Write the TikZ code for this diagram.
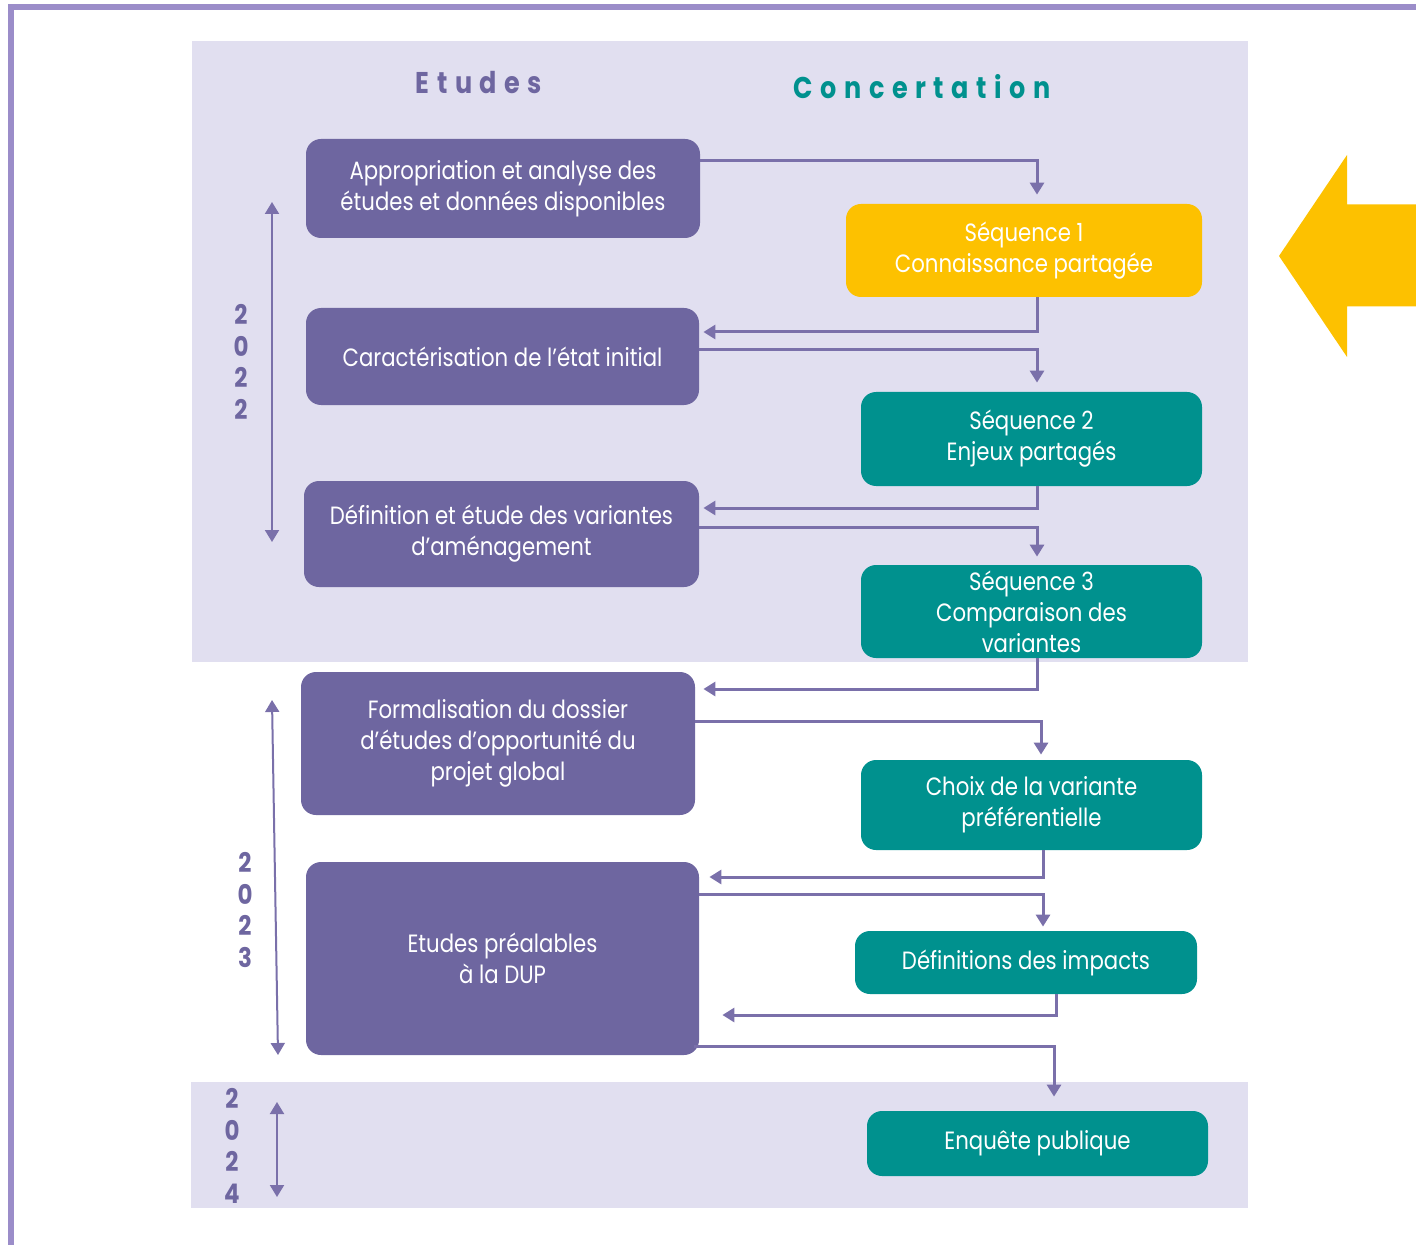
\documentclass[tikz,border=0pt]{standalone}
\usepackage{fontspec}
\setmainfont{Poppins}[FakeStretch=0.85]
\usetikzlibrary{arrows.meta,calc}
\definecolor{framelila}{HTML}{9B8DC9}
\definecolor{panel}{HTML}{E1DFF0}
\definecolor{etudeviolet}{HTML}{6E66A0}
\definecolor{flowviolet}{HTML}{7A70AA}
\definecolor{concteal}{HTML}{00918E}
\definecolor{seqyellow}{HTML}{FDC100}
\tikzstyle{etudebox}=[rounded corners=7.5pt,fill=etudeviolet,text=white,align=center,inner sep=0pt,font=\fontsize{12.5}{15.5}\selectfont]
\tikzstyle{concbox}=[rounded corners=7.5pt,fill=concteal,text=white,align=center,inner sep=0pt,minimum width=170.5pt,font=\fontsize{12.5}{15.5}\selectfont]
\tikzstyle{flow}=[draw=flowviolet,line width=1.5pt,-{Triangle[width=7pt,length=6pt]}]
\tikzstyle{yeartext}=[text=etudeviolet,align=center,inner sep=0pt,font=\bfseries\fontsize{13.5}{15.7}\selectfont]
\tikzstyle{yeararrow}=[draw=flowviolet,line width=1pt,{Triangle[width=7pt,length=6pt]}-{Triangle[width=7pt,length=6pt]}]

\begin{document}
\begin{tikzpicture}[x=0.5pt,y=-0.5pt]
    \useasboundingbox (0,0) rectangle (1416,1245);
    \draw[framelila,line width=3pt] (11,1245) -- (11,7.5) -- (1416,7.5);
    \fill[panel] (192,41) rectangle (1248,662);
    \fill[panel] (191,1082) rectangle (1248,1208);

    \node[text=etudeviolet,font=\bfseries\fontsize{15}{18}\selectfont\addfontfeature{LetterSpace=25}] (tEtudes) at (479,83) {Etudes};
    \node[text=concteal,font=\bfseries\fontsize{15}{18}\selectfont\addfontfeature{LetterSpace=25}] (tConc) at (922,87) {Concertation};

    \node[etudebox,minimum width=197pt,minimum height=49.5pt] (A1) at (503,188.5) {Appropriation et analyse des\\études et données disponibles};
    \node[etudebox,minimum width=196.5pt,minimum height=48.5pt] (A2) at (502.5,356.5) {Caractérisation de l’état initial};
    \node[etudebox,minimum width=197.5pt,minimum height=53pt] (A3) at (501.5,534) {Définition et étude des variantes\\d’aménagement};
    \node[etudebox,minimum width=197pt,minimum height=71.5pt] (A4) at (498,743.5) {Formalisation du dossier\\d’études d’opportunité du\\projet global};
    \node[etudebox,minimum width=196.5pt,minimum height=96.5pt] (A5) at (502.5,958.5) {Etudes préalables\\à la DUP};

    \node[concbox,fill=seqyellow,minimum width=178pt,minimum height=46.5pt] (S1) at (1024,250.5) {Séquence 1\\Connaissance partagée};
    \node[concbox,minimum height=47pt] (S2) at (1031.5,439) {Séquence 2\\Enjeux partagés};
    \node[concbox,minimum height=46.5pt] (S3) at (1031.5,611.5) {Séquence 3\\Comparaison des\\variantes};
    \node[concbox,minimum height=45pt] (C4) at (1031.5,805) {Choix de la variante\\préférentielle};
    \node[concbox,minimum width=171pt,minimum height=31.5pt] (C5) at (1026,962.5) {Définitions des impacts};
    \node[concbox,minimum height=32.5pt] (C6) at (1037.5,1143.5) {Enquête publique};

    % etudes -> concertation
    \foreach \from/\dy/\to/\dx/\gap in {A1/-27.5/S1/13/4.5, A2/-6.5/S2/5.5/4.5, A3/-7/S3/5.5/4, A4/-22.5/C4/9.5/2.5, A5/-64.5/C5/17/2}
        \draw[flow,shorten >=\gap pt] ($(\from.east)+(0,\dy)$) -| ($(\to.north)+(\dx,0)$);
    \draw[flow,shorten >=7pt] ($(A5.east)+(-5,87.5)$) -| ($(C6.north)+(16.5,0)$);
    % concertation -> etudes
    \foreach \from/\dx/\to/\dy/\gap in {S1/13/A2/-24.5/2, S2/5.5/A3/-26/2, S3/5.5/A4/-54.5/4, C4/11.5/A5/-81.5/5, C5/30/A5/56.5/11.5}
        \draw[flow,shorten >=\gap pt] ($(\from.south)+(\dx,0)$) |- ($(\to.east)+(0,\dy)$);

    % annees
    \node[yeartext] (y2022) at (241,362) {2\\0\\2\\2};
    \node[yeartext] (y2023) at (245,910) {2\\0\\2\\3};
    \node[yeartext] (y2024) at (232,1146) {2\\0\\2\\4};
    \coordinate (y22top) at (272,202);
    \coordinate (y22bot) at (272,542);
    \coordinate (y23top) at (272,700);
    \coordinate (y23bot) at (278,1055);
    \coordinate (y24top) at (277,1102);
    \coordinate (y24bot) at (277,1197);
    \foreach \a/\b in {y22top/y22bot,y23top/y23bot,y24top/y24bot}
        \draw[yeararrow] (\a) -- (\b);

    \fill[seqyellow] (1279,256) -- (1347,155) -- (1347,204.5) -- (1416,204.5) -- (1416,306.5) -- (1347,306.5) -- (1347,357) -- cycle;
\end{tikzpicture}
\end{document}
